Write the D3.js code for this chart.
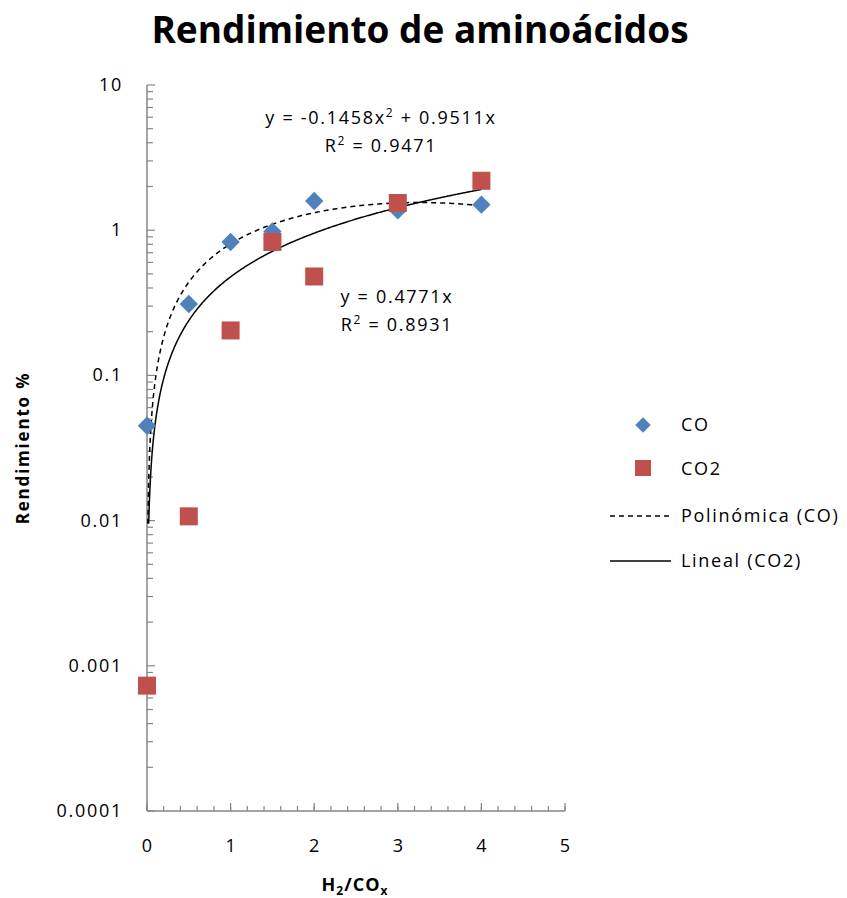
<!DOCTYPE html>
<html>
<head>
<meta charset="utf-8">
<script src="https://cdn.jsdelivr.net/npm/d3@7"></script>
<style>
  body { margin: 0; background: #fff; }
  svg { display: block; font-family: "Open Sans", "Noto Sans", sans-serif; }
</style>
</head>
<body>
<div id="chart"></div>
<script>
// Relación H2/COx y rendimiento (%)
const ratios = [0, 0.5, 1, 1.5, 2, 3, 4];
const yieldCO = [0.045, 0.31, 0.83, 0.98, 1.59, 1.37, 1.50];
const yieldCO2 = [0.00073, 0.0107, 0.204, 0.83, 0.48, 1.54, 2.19];

// Coeficientes de las líneas de tendencia
const polyCO = { a: -0.1458, b: 0.9511, r2: 0.9471 };
const linCO2 = { m: 0.4771, r2: 0.8931 };

const yTickValues = [10, 1, 0.1, 0.01, 0.001, 0.0001];
const xTickValues = [0, 1, 2, 3, 4, 5];

const W = 847, H = 898;
const margin = { left: 147, top: 85, right: 282, bottom: 87 };
const colCO = "#4F81BD", colCO2 = "#C0504D", axisCol = "#868686";
const LS = "1.7px";

const svg = d3.select("#chart").append("svg").attr("width", W).attr("height", H);

const x = d3.scaleLinear().domain([0, 5]).range([margin.left, W - margin.right]);
const y = d3.scaleLog().domain([0.0001, 10]).range([H - margin.bottom, margin.top]);

// Título
svg.append("text").attr("x", 420).attr("y", 43).attr("text-anchor", "middle")
  .attr("font-size", 37).attr("font-weight", "bold").attr("fill", "#000")
  .text("Rendimiento de aminoácidos");

// Eje Y (logarítmico) con marcas menores hacia dentro
const yMinor = [];
for (let e = -4; e < 1; e++) for (let k = 2; k <= 9; k++) yMinor.push(k * Math.pow(10, e));
const yAxisG = svg.append("g").attr("transform", `translate(${x(0)},0)`);
yAxisG.append("line").attr("x1", 0).attr("x2", 0).attr("y1", y(10)).attr("y2", y(0.0001))
  .attr("stroke", axisCol).attr("stroke-width", 1.5);
yAxisG.selectAll("line.minor").data(yMinor).join("line").attr("class", "minor")
  .attr("x1", 0).attr("x2", 6).attr("y1", d => y(d)).attr("y2", d => y(d))
  .attr("stroke", axisCol).attr("stroke-width", 1.2);
yAxisG.selectAll("line.major").data(yTickValues).join("line").attr("class", "major")
  .attr("x1", 0).attr("x2", 8).attr("y1", d => y(d)).attr("y2", d => y(d))
  .attr("stroke", axisCol).attr("stroke-width", 1.2);
svg.selectAll("text.ytick").data(yTickValues).join("text").attr("class", "ytick")
  .attr("x", 123).attr("y", d => y(d) + 6).attr("text-anchor", "end")
  .attr("font-size", 18).attr("letter-spacing", LS).attr("fill", "#000").text(d => String(d));

// Eje X con marcas cada 0.2 hacia dentro
const xMinor = d3.range(0, 5.0001, 0.2);
const xAxisG = svg.append("g").attr("transform", `translate(0,${y(0.0001)})`);
xAxisG.append("line").attr("x1", x(0)).attr("x2", x(5)).attr("y1", 0).attr("y2", 0)
  .attr("stroke", axisCol).attr("stroke-width", 1.5);
xAxisG.selectAll("line.minor").data(xMinor).join("line").attr("class", "minor")
  .attr("x1", d => x(d)).attr("x2", d => x(d)).attr("y1", 0).attr("y2", -5)
  .attr("stroke", axisCol).attr("stroke-width", 1.2);
xAxisG.selectAll("line.major").data(xTickValues).join("line").attr("class", "major")
  .attr("x1", d => x(d)).attr("x2", d => x(d)).attr("y1", 0).attr("y2", -8)
  .attr("stroke", axisCol).attr("stroke-width", 1.2);
svg.selectAll("text.xtick").data(xTickValues).join("text").attr("class", "xtick")
  .attr("x", d => x(d)).attr("y", 852).attr("text-anchor", "middle")
  .attr("font-size", 18).attr("fill", "#000").text(d => d);

// Títulos de ejes
const xt = svg.append("text").attr("x", 355).attr("y", 891).attr("text-anchor", "middle")
  .attr("font-size", 18).attr("font-weight", "bold").attr("letter-spacing", "1px").attr("fill", "#000");
xt.append("tspan").text("H");
xt.append("tspan").attr("font-size", 12).attr("dy", 4).text("2");
xt.append("tspan").attr("dy", -4).text("/CO");
xt.append("tspan").attr("font-size", 12).attr("dy", 4).text("x");

svg.append("text").attr("transform", "translate(29,448) rotate(-90)")
  .attr("text-anchor", "middle").attr("font-size", 17).attr("font-weight", "bold")
  .attr("letter-spacing", "1.8px").attr("fill", "#000").text("Rendimiento %");

// Líneas de tendencia
const plot = svg.append("g");
const polyPts = d3.range(0.01, 4.0001, 0.01).map(v => [v, polyCO.a * v * v + polyCO.b * v]);
const linPts = d3.range(0.02, 4.0001, 0.01).map(v => [v, linCO2.m * v]);
const line = d3.line().x(d => x(d[0])).y(d => y(d[1])).curve(d3.curveLinear);
plot.append("path").datum(linPts).attr("d", line).attr("fill", "none")
  .attr("stroke", "#000").attr("stroke-width", 1.5);
plot.append("path").datum(polyPts).attr("d", line).attr("fill", "none")
  .attr("stroke", "#000").attr("stroke-width", 1.5).attr("stroke-dasharray", "5,4");

// Puntos
plot.selectAll("path.co").data(ratios).join("path").attr("class", "co")
  .attr("transform", (d, i) => `translate(${x(d)},${y(yieldCO[i])}) rotate(45)`)
  .attr("d", "M-6.5,-6.5H6.5V6.5H-6.5Z").attr("fill", colCO);
plot.selectAll("rect.co2").data(ratios).join("rect").attr("class", "co2")
  .attr("x", d => x(d) - 9).attr("y", (d, i) => y(yieldCO2[i]) - 9)
  .attr("width", 18).attr("height", 18).attr("fill", colCO2);

// Ecuaciones
const eq = svg.append("g").attr("font-size", 18).attr("letter-spacing", LS)
  .attr("fill", "#000").attr("text-anchor", "middle");
const e1 = eq.append("text").attr("x", 381).attr("y", 124);
e1.append("tspan").text("y = " + polyCO.a + "x");
e1.append("tspan").attr("font-size", 12).attr("dy", -7).text("2");
e1.append("tspan").attr("dy", 7).text(" + " + polyCO.b + "x");
const r1 = eq.append("text").attr("x", 381).attr("y", 152);
r1.append("tspan").text("R");
r1.append("tspan").attr("font-size", 12).attr("dy", -7).text("2");
r1.append("tspan").attr("dy", 7).text(" = " + polyCO.r2);
eq.append("text").attr("x", 397).attr("y", 303).text("y = " + linCO2.m + "x");
const r2 = eq.append("text").attr("x", 397).attr("y", 331);
r2.append("tspan").text("R");
r2.append("tspan").attr("font-size", 12).attr("dy", -7).text("2");
r2.append("tspan").attr("dy", 7).text(" = " + linCO2.r2);

// Leyenda
const lg = svg.append("g").attr("font-size", 18).attr("letter-spacing", LS).attr("fill", "#000");
lg.append("path").attr("transform", "translate(643,425) rotate(45)")
  .attr("d", "M-5.5,-5.5H5.5V5.5H-5.5Z").attr("fill", colCO);
lg.append("text").attr("x", 681).attr("y", 431).text("CO");
lg.append("rect").attr("x", 635).attr("y", 460).attr("width", 16).attr("height", 16).attr("fill", colCO2);
lg.append("text").attr("x", 681).attr("y", 475).text("CO2");
lg.append("line").attr("x1", 610).attr("x2", 671).attr("y1", 516).attr("y2", 516)
  .attr("stroke", "#000").attr("stroke-width", 1.5).attr("stroke-dasharray", "5,4");
lg.append("text").attr("x", 681).attr("y", 522).text("Polinómica (CO)");
lg.append("line").attr("x1", 610).attr("x2", 671).attr("y1", 561).attr("y2", 561)
  .attr("stroke", "#000").attr("stroke-width", 1.5);
lg.append("text").attr("x", 681).attr("y", 567).text("Lineal (CO2)");
</script>
</body>
</html>
